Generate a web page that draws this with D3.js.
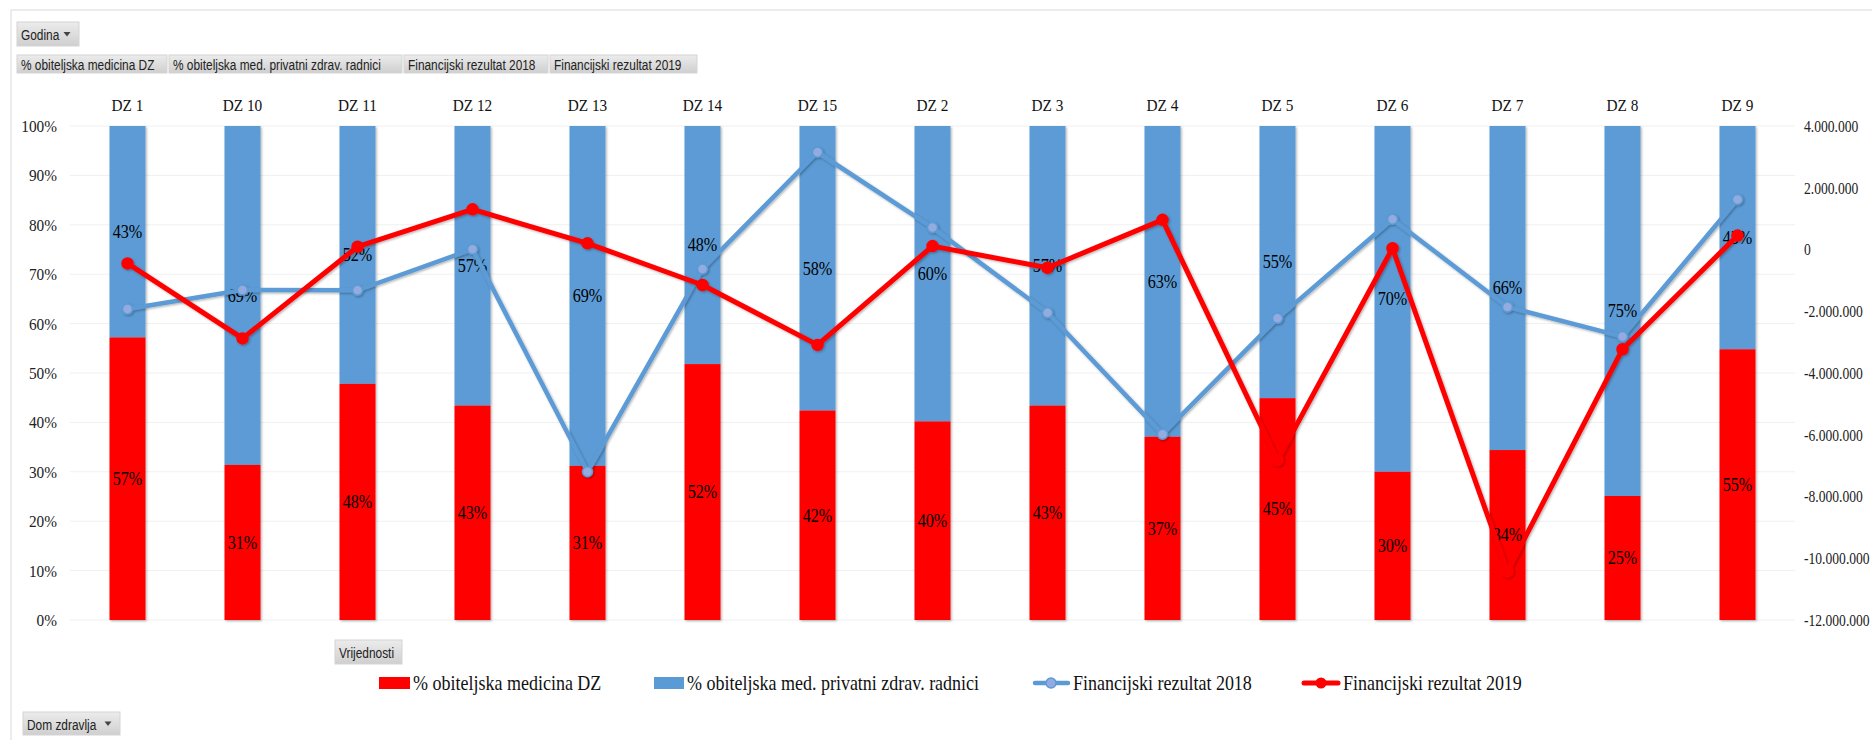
<!DOCTYPE html>
<html lang="hr">
<head>
<meta charset="UTF-8">
<title>Dom zdravlja - financijski rezultat</title>
<script src="https://d3js.org/d3.v7.min.js"></script>
<style>
  body { margin: 0; background: #fff; overflow: hidden; }
  text { font-family: "Liberation Serif", "Times New Roman", serif; }
  .btn text { font-family: "Liberation Sans", Arial, sans-serif; fill: #222; }
</style>
</head>
<body>
<script>
// data
const categories = ["DZ 1", "DZ 10", "DZ 11", "DZ 12", "DZ 13", "DZ 14", "DZ 15", "DZ 2",
                    "DZ 3", "DZ 4", "DZ 5", "DZ 6", "DZ 7", "DZ 8", "DZ 9"];
const shareDZ = [57.2, 31.4, 47.8, 43.4, 31.2, 51.8, 42.4, 40.2, 43.4, 37.1, 44.9, 30.0, 34.4, 25.1, 54.8];
const sharePrivate = [42.8, 68.6, 52.2, 56.6, 68.8, 48.2, 57.6, 59.8, 56.6, 62.9, 55.1, 70.0, 65.6, 74.9, 45.2];
const result2018 = [-1930000, -1310000, -1320000, 10000, -7200000, -630000, 3150000, 710000,
                    -2050000, -5980000, -2230000, 980000, -1860000, -2820000, 1620000];
const result2019 = [-450000, -2880000, 90000, 1300000, 200000, -1150000, -3090000, 110000,
                    -590000, 960000, -6820000, 40000, -10430000, -3230000, 450000];
const pctTicks = [0, 10, 20, 30, 40, 50, 60, 70, 80, 90, 100];
const moneyTicks = [4000000, 2000000, 0, -2000000, -4000000, -6000000, -8000000, -10000000, -12000000];
const tabLabels = ["% obiteljska medicina DZ", "% obiteljska med. privatni zdrav. radnici",
                   "Financijski rezultat 2018", "Financijski rezultat 2019"];

const W = 1872, H = 740;
const RED = "#ff0000", BLUE = "#5b9bd5", BLUE_MARK = "#94abdf";
const plot = { left: 70, right: 1795, top: 126, bottom: 620 };

const svg = d3.select("body").append("svg").attr("width", W).attr("height", H);

const defs = svg.append("defs");
const sh = defs.append("filter").attr("id", "shadow")
  .attr("x", "-20%").attr("y", "-20%").attr("width", "140%").attr("height", "140%");
sh.append("feDropShadow").attr("dx", 1.2).attr("dy", 1.2).attr("stdDeviation", 1.3)
  .attr("flood-color", "#000").attr("flood-opacity", 0.3);
const grad = defs.append("linearGradient").attr("id", "btnGrad").attr("x1", 0).attr("y1", 0).attr("x2", 0).attr("y2", 1);
grad.append("stop").attr("offset", "0%").attr("stop-color", "#ececec");
grad.append("stop").attr("offset", "100%").attr("stop-color", "#cfcfcf");

// text helper, the original text is a bit narrow
function label(g, x, y, s, opts = {}) {
  return g.append("text")
    .attr("transform", `translate(${x},${y}) scale(${opts.sx || 0.9},1)`)
    .attr("text-anchor", opts.anchor || "start")
    .attr("dy", opts.dy || "0.35em")
    .style("font-size", (opts.size || 17) + "px")
    .attr("fill", opts.fill || "#111")
    .text(s);
}

// frame
svg.append("path").attr("d", `M11,${H} V10 H${W}`).attr("fill", "none").attr("stroke", "#d9d9d9");

// pivot buttons
function button(x, y, w, h, s, arrow) {
  const g = svg.append("g").attr("class", "btn");
  g.append("rect").attr("x", x).attr("y", y).attr("width", w).attr("height", h)
    .attr("fill", "url(#btnGrad)").attr("stroke", "#d4d4d4");
  label(g, x + 4, y + h / 2 + 1, s, { size: 14.5, sx: 0.82, fill: "#222" });
  if (arrow) {
    const ax = x + w - 12, ay = y + h / 2;
    g.append("path").attr("d", `M${ax - 3.5},${ay - 2} L${ax + 3.5},${ay - 2} L${ax},${ay + 2.5}Z`).attr("fill", "#444");
  }
}
button(17, 22, 62, 24, "Godina", true);
const tabX = [17, 169, 404, 550, 699];
tabLabels.forEach((t, i) => button(tabX[i], 55, tabX[i + 1] - tabX[i] - 2, 18, t, false));
button(335, 640, 67, 24, "Vrijednosti", false);
button(23, 712, 97, 23, "Dom zdravlja", true);

// scales
const x = d3.scaleBand().domain(categories).range([plot.left, plot.right])
  .paddingInner(0.687).paddingOuter(0.3435);
const yPct = d3.scaleLinear().domain([0, 100]).range([plot.bottom, plot.top]);
const yMoney = d3.scaleLinear().domain([-12000000, 4000000]).range([plot.bottom, plot.top]);
const cx = d => x(d) + x.bandwidth() / 2;

// gridlines
svg.append("g").selectAll("line").data(pctTicks).enter().append("line")
  .attr("x1", plot.left).attr("x2", plot.right)
  .attr("y1", d => yPct(d)).attr("y2", d => yPct(d))
  .attr("stroke", "#f0f0f0").attr("stroke-width", 1);

// axes
const fmtMoney = d3.formatLocale({ decimal: ",", thousands: ".", grouping: [3], currency: ["", ""], minus: "-" }).format(",d");
const leftAxis = svg.append("g").attr("transform", `translate(57,0)`);
pctTicks.forEach(t => label(leftAxis, 0, yPct(t), t + "%", { anchor: "end", fill: "#222" }));
const rightAxis = svg.append("g").attr("transform", `translate(1804,0)`);
moneyTicks.forEach(t => label(rightAxis, 0, yMoney(t), fmtMoney(t), { fill: "#222", sx: 0.8 }));
const topAxis = svg.append("g");
categories.forEach(c => label(topAxis, cx(c), 105, c, { anchor: "middle", fill: "#111" }));

// stacked bars
const rows = categories.map((c, i) => ({ c, dz: shareDZ[i], pr: sharePrivate[i] }));
const bars = svg.append("g").attr("filter", "url(#shadow)");
bars.selectAll("rect.pr").data(rows).enter().append("rect").attr("class", "pr")
  .attr("x", d => x(d.c)).attr("width", x.bandwidth())
  .attr("y", d => yPct(d.dz + d.pr)).attr("height", d => yPct(d.dz) - yPct(d.dz + d.pr))
  .attr("fill", BLUE);
bars.selectAll("rect.dz").data(rows).enter().append("rect").attr("class", "dz")
  .attr("x", d => x(d.c)).attr("width", x.bandwidth())
  .attr("y", d => yPct(d.dz)).attr("height", d => yPct(0) - yPct(d.dz))
  .attr("fill", RED);

// bar labels
const lbl = svg.append("g");
rows.forEach(d => {
  label(lbl, cx(d.c), (yPct(0) + yPct(d.dz)) / 2, Math.round(d.dz) + "%", { anchor: "middle", size: 18, fill: "#000" });
  label(lbl, cx(d.c), (yPct(d.dz) + yPct(d.dz + d.pr)) / 2, Math.round(d.pr) + "%", { anchor: "middle", size: 18, fill: "#000" });
});

// lines
function drawLine(values, color, width, r, markFill) {
  const pts = categories.map((c, i) => [cx(c), yMoney(values[i])]);
  const g = svg.append("g").attr("filter", "url(#shadow)");
  g.append("path").attr("d", d3.line()(pts)).attr("fill", "none")
    .attr("stroke", color).attr("stroke-width", width).attr("stroke-linejoin", "round");
  g.selectAll("circle").data(pts).enter().append("circle")
    .attr("cx", d => d[0]).attr("cy", d => d[1]).attr("r", r)
    .attr("fill", markFill).attr("stroke", color).attr("stroke-width", 1.5);
}
drawLine(result2018, BLUE, 4.5, 5, BLUE_MARK);
drawLine(result2019, RED, 5, 5.5, RED);

// legend
const leg = svg.append("g");
const ly = 683;
leg.append("rect").attr("x", 379).attr("y", ly - 6).attr("width", 31).attr("height", 12).attr("fill", RED);
label(leg, 413, ly, tabLabels[0], { size: 20, fill: "#111" });
leg.append("rect").attr("x", 654).attr("y", ly - 6).attr("width", 30).attr("height", 12).attr("fill", BLUE);
label(leg, 687, ly, tabLabels[1], { size: 20, fill: "#111" });
leg.append("line").attr("x1", 1035).attr("x2", 1068).attr("y1", ly).attr("y2", ly)
  .attr("stroke", BLUE).attr("stroke-width", 4.5).attr("stroke-linecap", "round");
leg.append("circle").attr("cx", 1051).attr("cy", ly).attr("r", 5).attr("fill", BLUE_MARK).attr("stroke", BLUE).attr("stroke-width", 1.5);
label(leg, 1073, ly, tabLabels[2], { size: 20, fill: "#111" });
leg.append("line").attr("x1", 1304).attr("x2", 1338).attr("y1", ly).attr("y2", ly)
  .attr("stroke", RED).attr("stroke-width", 5).attr("stroke-linecap", "round");
leg.append("circle").attr("cx", 1321).attr("cy", ly).attr("r", 5.5).attr("fill", RED);
label(leg, 1343, ly, tabLabels[3], { size: 20, fill: "#111" });
</script>
</body>
</html>
